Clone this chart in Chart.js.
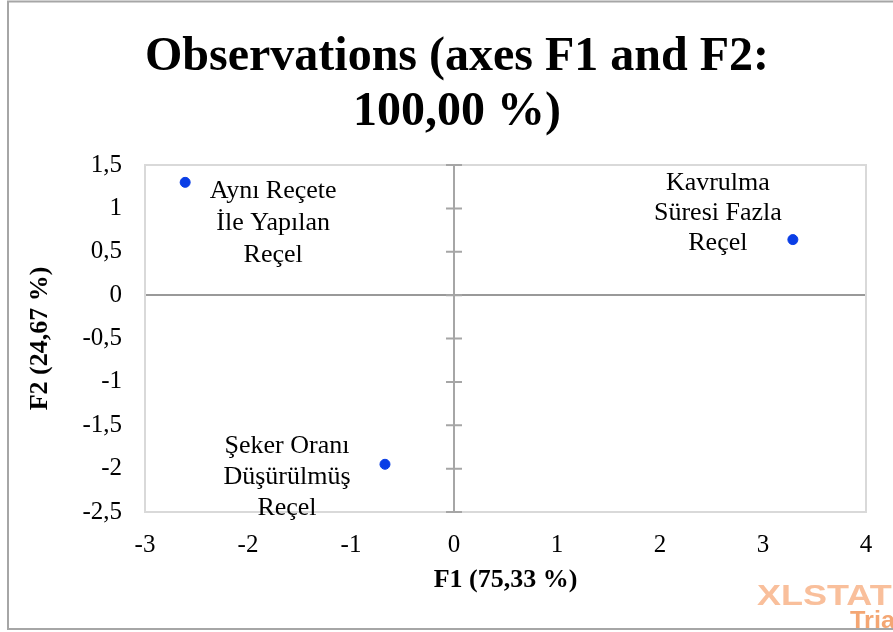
<!DOCTYPE html>
<html>
<head>
<meta charset="utf-8">
<script src="https://cdn.jsdelivr.net/npm/chart.js@4.4.1/dist/chart.umd.min.js"></script>
<style>
    html, body { margin: 0; padding: 0; background: #fff; overflow: hidden; }
</style>
</head>
<body>
<canvas id="obs-chart" width="893" height="632"></canvas>
<script>
// Observation names (one array of lines per point)
const obsNames = [
    ['Aynı Reçete', 'İle Yapılan', 'Reçel'],
    ['Kavrulma', 'Süresi Fazla', 'Reçel'],
    ['Şeker Oranı', 'Düşürülmüş', 'Reçel']
];
// Factor scores
const f1Values = [-2.61, 3.29, -0.67];
const f2Values = [1.30, 0.64, -1.95];

// Tick labels (comma decimals)
const xTickLabels = ['-3', '-2', '-1', '0', '1', '2', '3', '4'];
const yTickLabels = ['-2,5', '-2', '-1,5', '-1', '-0,5', '0', '0,5', '1', '1,5'];

const serif = "'Liberation Serif', 'Times New Roman', serif";

// where each label sits relative to its point
const labelOffsets = [
    { dx: 88, dy: 9, gap: 32 },
    { dx: -75, dy: -56, gap: 30 },
    { dx: -98, dy: -18, gap: 31 }
];

const points = f1Values.map((x, i) => ({ x: x, y: f2Values[i] }));

// Outer frame + watermark
const backgroundPlugin = {
    id: 'background',
    beforeDraw(chart) {
        const ctx = chart.ctx;
        ctx.save();
        ctx.fillStyle = '#fff';
        ctx.fillRect(0, 0, chart.width, chart.height);
        ctx.restore();
    },
    afterDraw(chart) {
        const ctx = chart.ctx;
        ctx.save();
        ctx.textBaseline = 'alphabetic';
        ctx.textAlign = 'left';
        // watermark is a wide face, stretch it a little
        ctx.save();
        ctx.translate(757, 605);
        ctx.scale(1.2, 1);
        ctx.font = "bold 30px 'Liberation Sans', Arial, sans-serif";
        ctx.fillStyle = '#f9bf9b';
        ctx.fillText('XLSTAT', 0, 0);
        ctx.restore();
        ctx.save();
        ctx.translate(850, 628);
        ctx.scale(1.1, 1);
        ctx.font = "bold 23px 'Liberation Sans', Arial, sans-serif";
        ctx.fillStyle = '#f4a673';
        ctx.fillText('Trial', 0, 0);
        ctx.restore();

        ctx.strokeStyle = '#a6a6a6';
        ctx.lineWidth = 2;
        ctx.beginPath();
        ctx.moveTo(895, 1.5);
        ctx.lineTo(8, 1.5);
        ctx.lineTo(8, 629);
        ctx.lineTo(895, 629);
        ctx.stroke();
        ctx.restore();
    }
};

// Plot frame, tick marks on the F1 = 0 axis, point labels
const decorPlugin = {
    id: 'decor',
    beforeDatasetsDraw(chart) {
        const { ctx, chartArea: a, scales } = chart;
        ctx.save();
        ctx.strokeStyle = '#d9d9d9';
        ctx.lineWidth = 2;
        ctx.strokeRect(a.left, a.top, a.right - a.left, a.bottom - a.top);

        const x0 = scales.x.getPixelForValue(0);
        ctx.strokeStyle = '#a6a6a6';
        ctx.beginPath();
        scales.y.ticks.forEach(t => {
            const y = scales.y.getPixelForValue(t.value);
            ctx.moveTo(x0 - 8, y);
            ctx.lineTo(x0 + 8, y);
        });
        ctx.stroke();
        ctx.restore();
    },
    afterDatasetsDraw(chart) {
        const ctx = chart.ctx;
        const meta = chart.getDatasetMeta(0);
        ctx.save();
        ctx.font = '26px ' + serif;
        ctx.fillStyle = '#000';
        ctx.textAlign = 'center';
        ctx.textBaseline = 'middle';
        meta.data.forEach((pt, i) => {
            const off = labelOffsets[i];
            obsNames[i].forEach((line, j) => {
                ctx.fillText(line, pt.x + off.dx, pt.y + off.dy + j * off.gap);
            });
        });
        ctx.restore();
    }
};

new Chart(document.getElementById('obs-chart'), {
    type: 'scatter',
    data: {
        datasets: [{
            label: 'Observations',
            data: points,
            backgroundColor: '#0a3ee6',
            borderColor: '#0a3ee6',
            pointRadius: 5,
            pointHoverRadius: 5
        }]
    },
    options: {
        responsive: false,
        animation: false,
        layout: { padding: { left: 21, right: 0, top: 0, bottom: 0 } },
        plugins: {
            legend: { display: false },
            tooltip: { enabled: false },
            title: {
                display: true,
                text: ['Observations (axes F1 and F2:', '100,00 %)'],
                color: '#000',
                font: { family: serif, size: 48, weight: 'bold', lineHeight: 1.15 },
                padding: { top: 30, bottom: 24.6 }
            }
        },
        scales: {
            x: {
                type: 'linear',
                min: -3,
                max: 4,
                ticks: {
                    stepSize: 1,
                    color: '#000',
                    font: { family: serif, size: 25 },
                    padding: 18,
                    callback: (v, i) => xTickLabels[i]
                },
                grid: {
                    drawTicks: false,
                    lineWidth: 2,
                    color: c => (c.tick && c.tick.value === 0) ? '#a6a6a6' : 'rgba(0,0,0,0)'
                },
                border: { display: false },
                title: {
                    display: true,
                    text: 'F1 (75,33 %)',
                    color: '#000',
                    font: { family: serif, size: 26, weight: 'bold' },
                    padding: { top: 0, bottom: 36 }
                },
                afterFit: s => { s.height = 120; }
            },
            y: {
                type: 'linear',
                min: -2.5,
                max: 1.5,
                ticks: {
                    stepSize: 0.5,
                    color: '#000',
                    font: { family: serif, size: 25 },
                    padding: 23,
                    callback: (v, i) => yTickLabels[i]
                },
                grid: {
                    drawTicks: false,
                    lineWidth: 2,
                    color: c => (c.tick && c.tick.value === 0) ? '#999999' : 'rgba(0,0,0,0)'
                },
                border: { display: false },
                title: {
                    display: true,
                    text: 'F2 (24,67 %)',
                    color: '#000',
                    font: { family: serif, size: 26, weight: 'bold' },
                    padding: { top: 4, bottom: 0 }
                },
                afterFit: s => { s.width = 124; }
            },
            // empty right-hand box so the title centres like the original
            yRight: {
                position: 'right',
                display: true,
                ticks: { display: false },
                grid: { display: false },
                border: { display: false },
                afterFit: s => { s.width = 27; }
            }
        }
    },
    plugins: [backgroundPlugin, decorPlugin]
});
</script>
</body>
</html>
